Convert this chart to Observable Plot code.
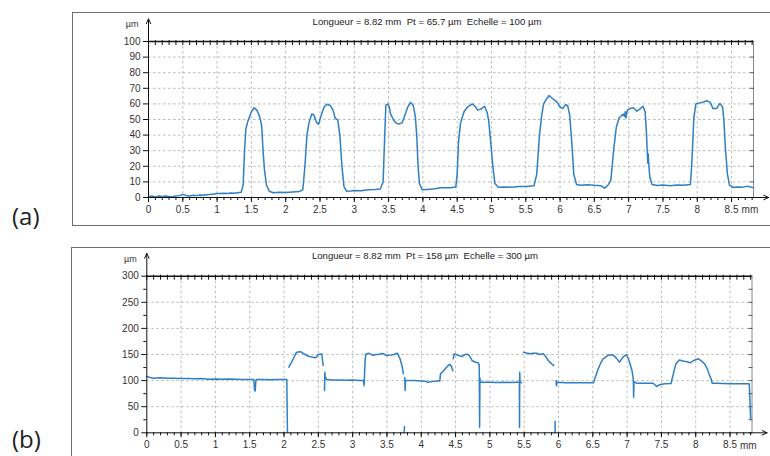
<!DOCTYPE html>
<html>
<head>
<meta charset="utf-8">
<script src="https://cdn.jsdelivr.net/npm/d3@7"></script>
<script src="https://cdn.jsdelivr.net/npm/@observablehq/plot@0.6"></script>
<style>
  html, body { margin: 0; padding: 0; background: #fff; }
  #wrap { position: relative; width: 770px; height: 456px; overflow: hidden; font-family: "Liberation Sans", Arial, sans-serif; }
  .box { position: absolute; border: 1.5px solid #6e6e6e; box-sizing: border-box; }
  .tag { position: absolute; font-family: "Open Sans", "Liberation Sans", sans-serif; font-size: 24px; color: #222; line-height: 30px; }
  .title { position: absolute; font-size: 9.6px; color: #222; white-space: pre; transform: translateX(-50%); line-height: 12px; }
  .plot { position: absolute; left: 0; }
</style>
</head>
<body>
<div id="wrap"></div>
<script>
// ---------- data ----------
const panelTags = ["(a)", "(b)"];
const titleA = "Longueur = 8.82 mm  Pt = 65.7 µm  Echelle = 100 µm";
const titleB = "Longueur = 8.82 mm  Pt = 158 µm  Echelle = 300 µm";
const unitY = "µm";
const unitX = "mm";
const lengthMM = 8.82;
const xMajorTicks = [0,0.5,1,1.5,2,2.5,3,3.5,4,4.5,5,5.5,6,6.5,7,7.5,8,8.5];
const yTicksA = [0,10,20,30,40,50,60,70,80,90,100];
const yTicksB = [0,50,100,150,200,250,300];
const yMinorB = [25,75,125,175,225,275];
const scaleA = 100;
const scaleB = 300;

// profile (a)
const aX = [0.00,0.05,0.10,0.15,0.20,0.25,0.30,0.35,0.40,0.45,0.50,0.55,0.60,0.65,0.70,0.75,0.80,0.85,0.90,0.95,
  1.00,1.05,1.10,1.15,1.20,1.25,1.30,1.35,1.38,1.40,1.42,1.45,1.50,1.54,1.58,1.62,1.65,1.67,1.69,1.72,1.76,1.82,1.90,
  2.00,2.10,2.20,2.25,2.28,2.31,2.34,2.38,2.41,2.45,2.48,2.52,2.56,2.60,2.65,2.69,2.72,2.76,2.79,2.82,2.85,2.89,2.95,
  3.00,3.10,3.20,3.30,3.38,3.42,3.44,3.46,3.49,3.51,3.53,3.57,3.60,3.65,3.70,3.74,3.78,3.82,3.86,3.89,3.91,3.93,3.95,3.99,
  4.05,4.15,4.26,4.40,4.48,4.50,4.52,4.55,4.60,4.65,4.72,4.76,4.80,4.84,4.90,4.94,4.96,4.99,5.02,5.05,5.10,5.20,5.30,5.40,5.50,
  5.62,5.66,5.70,5.73,5.76,5.80,5.84,5.90,5.95,6.00,6.04,6.08,6.11,6.14,6.17,6.20,6.24,6.30,6.40,6.50,6.60,6.65,6.70,6.74,6.78,
  6.82,6.86,6.92,6.94,6.95,6.96,6.98,7.02,7.07,7.12,7.17,7.21,7.24,7.26,7.27,7.28,7.285,7.30,7.31,7.34,7.42,7.50,7.60,7.70,7.80,
  7.90,7.92,7.95,7.98,8.03,8.08,8.14,8.19,8.23,8.28,8.33,8.37,8.39,8.41,8.44,8.47,8.52,8.60,8.66,8.73,8.79,8.82];
const aY = [0.5,1.0,0.4,0.9,0.6,1.0,0.7,0.5,0.9,1.2,2.0,1.3,1.0,1.4,1.2,1.6,1.4,1.7,2.0,2.2,
  2.6,2.5,2.8,2.6,2.9,2.7,3.1,3.3,8,30,44,49,55,57.5,56,52,46,30,18,8,4,3,3.3,
  3.2,3.5,3.8,5,20,40,48,53.5,53,48,47,53,58,59.8,59,56,51,49.5,40,20,7,4,4.2,
  4.5,4.3,5,5.2,5.5,10,35,59,60,58,53.5,50,48,47,48,53,58,61,59,52,40,20,9,5,
  5.2,5.5,6.2,6.3,6.8,15,36,48,55,58,60,58.5,56,56.5,58.5,54,49,35,20,9,6.5,6.8,6.5,7,7,
  7.5,15,40,52,60,63,65.4,63,61.5,58,57,59.5,59,53,36,15,8.3,7.8,8.2,7.8,7.5,6,8,11,30,
  45,51,53.5,52,55,51,56,57,57.5,55.3,57,58.5,55,41,30,22,28,17,13,8.3,7.7,8,7.6,8,7.8,
  8.3,21,51,60,60.5,61,62,61,57,57,60.3,58,48,32,15,8,6.6,6.8,6.5,7.3,6.6,6.4];

// profile (b) — null marks a break in the trace
const bX = [0.00,0.05,0.10,0.20,0.30,0.40,0.50,0.60,0.70,0.80,0.90,1.00,1.10,1.20,1.30,1.40,1.50,1.56,1.57,1.58,1.59,1.60,1.70,1.80,1.90,2.00,2.04,2.05,2.06,
  2.07,2.10,2.13,2.17,2.20,2.24,2.28,2.31,2.35,2.40,2.46,2.50,2.55,2.56,2.57,2.58,
  2.59,2.595,2.60,2.62,2.70,2.80,2.90,3.00,3.10,3.16,3.165,3.17,3.18,3.19,3.23,3.27,3.30,3.34,3.38,3.42,3.45,3.49,3.52,3.56,3.60,3.65,3.69,3.72,3.74,3.745,
  3.75,3.755,3.758,
  3.76,3.765,3.77,3.80,3.90,4.00,4.05,4.10,4.20,4.27,4.28,4.32,4.35,4.40,4.42,4.44,4.46,4.462,
  4.465,4.48,4.51,4.54,4.59,4.64,4.68,4.71,4.74,4.78,4.83,4.845,4.85,4.855,4.86,4.90,5.00,5.10,5.20,5.30,5.40,5.43,5.432,5.435,5.44,5.46,5.47,
  5.49,5.53,5.59,5.63,5.68,5.73,5.78,5.82,5.85,5.90,5.93,5.94,
  5.95,5.951,5.955,
  5.965,5.97,5.98,6.10,6.21,6.30,6.40,6.51,6.53,6.58,6.62,6.65,6.72,6.79,6.84,6.89,6.94,6.99,7.02,7.07,7.09,7.095,7.10,7.14,7.25,7.38,7.43,7.47,7.55,7.64,
  7.66,7.71,7.76,7.83,7.88,7.92,7.97,8.04,8.08,8.13,8.17,8.20,8.22,8.24,8.30,8.40,8.50,8.60,8.70,8.76,8.78,8.79,8.80];
const bY = [107.8,106,104.7,105.5,104.5,104.7,104,104.2,103.5,103.8,102.8,103.2,102.5,103,102.5,102.2,102,102,82,80,101,102,102,101.5,102.3,102,102,1,null,
  125.7,133,140,152,155,155.5,152,150,147,145,143.6,150,151,140,129,null,
  81,116,108,102,101,101,100.5,101,100,100,90,100,135,150,152.5,150,148.5,150,150,152,151.5,148,148.5,149,150,152.5,142,128,113,null,
  0,12,null,
  106,81,100,100,100,99,99,97,99,99,113,118,122.6,130,131,127,119,null,
  141.7,151,150,148.5,146,150,150.5,146,138.5,135.6,134,130,10.7,105,97,97,97,96.5,97,96.5,97,97,10,116,97,96,null,
  154.4,153,151.5,152.5,152.5,150,151.5,145,138.5,132,129,null,
  0,22,null,
  100,90,97,96,96,96,96,96,104,122.6,135,141.7,148.5,149.5,143.6,135.3,145,150,141.7,120,104,68,98,95,95,95,88.7,92,94,94.5,
  106,132,139.5,137,136,134,138.5,141.7,138,132,122,110,105,95,95,94.5,94,94,94,94,94,60,27];

// ---------- drawing ----------
const lineColor = "#2f7fc4";
const wrap = document.getElementById("wrap");

function xMinor(max) { return d3.range(0, max + 1e-9, 0.1).map(v => +v.toFixed(2)); }

function profile({xs, ys, yMax, yTicks, yMinorL, yRightTicks, width, height, mt, mb, ml, mr}) {
  const rows = xs.map((x, i) => ({x, y: ys[i]}));
  const xMax = lengthMM;
  return Plot.plot({
    width, height,
    marginTop: mt, marginBottom: mb, marginLeft: ml, marginRight: mr,
    style: {background: "transparent", fontFamily: "'Liberation Sans', Arial, sans-serif", fontSize: "10px", color: "#333", overflow: "visible"},
    x: {domain: [0, xMax], label: null},
    y: {domain: [0, yMax], label: null},
    marks: [
      Plot.gridX({ticks: xMajorTicks.filter(d => d > 0), stroke: "#b4b4b4", strokeOpacity: 1, strokeDasharray: "2.5,2.5", strokeWidth: 0.9}),
      Plot.gridY({ticks: yTicks.filter(d => d > 0 && d < yMax), stroke: "#b4b4b4", strokeOpacity: 1, strokeDasharray: "2.5,2.5", strokeWidth: 0.9}),
      Plot.ruleX([xMax], {y1: 0, y2: yMax, stroke: "#8a8a8a", strokeWidth: 1}),
      Plot.axisY({anchor: "right", ticks: yRightTicks, tickSize: -4, tickFormat: () => "", label: null, stroke: "#555"}),
      Plot.axisY({anchor: "left", ticks: yTicks, tickSize: 5, tickPadding: 3, label: null, fontSize: 10, color: "#333", stroke: "#111"}),
      ...(yMinorL ? [Plot.axisY({anchor: "left", ticks: yMinorL, tickSize: 3, tickFormat: () => "", label: null, stroke: "#111"})] : []),
      Plot.axisX({anchor: "bottom", ticks: xMinor(xMax), tickSize: 3, tickFormat: () => "", label: null, stroke: "#111"}),
      Plot.axisX({anchor: "bottom", ticks: xMajorTicks, tickSize: 5, tickPadding: 3, label: null, fontSize: 10, color: "#333", stroke: "#111", tickFormat: d => `${d}`}),
      Plot.axisX({anchor: "top", ticks: xMinor(xMax), tickSize: -3, tickFormat: () => "", label: null, stroke: "#111"}),
      Plot.axisX({anchor: "top", ticks: xMinor(xMax), tickSize: 2, tickFormat: () => "", label: null, stroke: "#111"}),
      Plot.ruleY([yMax], {x1: 0, x2: xMax, stroke: "#111", strokeWidth: 1.6}),
      Plot.line(rows, {x: "x", y: "y", stroke: lineColor, strokeWidth: 1.5, strokeLinejoin: "round"}),
      Plot.arrow([{x: 0, y1: 0, y2: yMax * 1.145}], {x1: "x", x2: "x", y1: "y1", y2: "y2", stroke: "#111", strokeWidth: 1, headLength: 8, headAngle: 50}),
      Plot.arrow([{x1: 0, x2: xMax + 0.22}], {x1: "x1", x2: "x2", y1: () => 0, y2: () => 0, stroke: "#111", strokeWidth: 1, headLength: 8, headAngle: 50}),
      Plot.text([unitY], {x: () => 0, y: () => yMax * 1.11, text: d => d, dx: -10, textAnchor: "end", fontSize: 9, fill: "#333"}),
      Plot.text([unitX], {x: () => xMajorTicks[xMajorTicks.length - 1], y: () => 0, text: d => d, dx: 10, dy: 12.5, textAnchor: "start", fontSize: 10, fill: "#333"})
    ]
  });
}

function add(el, cls, css, text) {
  const d = document.createElement("div");
  d.className = cls;
  Object.assign(d.style, css);
  if (text !== undefined) d.textContent = text;
  el.appendChild(d);
  return d;
}

// panel boxes
add(wrap, "box", {left: "72px", top: "12px", width: "710px", height: "214px"});
add(wrap, "box", {left: "70.5px", top: "246.5px", width: "712px", height: "230px"});

// plots
const pA = profile({xs: aX, ys: aY, yMax: scaleA, yTicks: yTicksA, yMinorL: null, yRightTicks: yTicksA,
  width: 770, height: 228, mt: 41, mb: 31, ml: 148, mr: 17});
pA.classList.add("plot"); pA.style.position = "absolute"; pA.style.top = "0px"; pA.style.left = "0px";
wrap.appendChild(pA);

const pB = profile({xs: bX, ys: bY, yMax: scaleB, yTicks: yTicksB, yMinorL: yMinorB, yRightTicks: d3.range(0, scaleB + 1, 25),
  width: 770, height: 226, mt: 45.7, mb: 23.7, ml: 146.3, mr: 18.5});
pB.classList.add("plot"); pB.style.position = "absolute"; pB.style.top = "230px"; pB.style.left = "0px";
wrap.appendChild(pB);

// titles & tags
add(wrap, "title", {left: "427px", top: "16px"}, titleA);
add(wrap, "title", {left: "425px", top: "250px"}, titleB);
add(wrap, "tag", {left: "12px", top: "201px"}, panelTags[0]);
add(wrap, "tag", {left: "12px", top: "424px"}, panelTags[1]);
</script>
</body>
</html>
